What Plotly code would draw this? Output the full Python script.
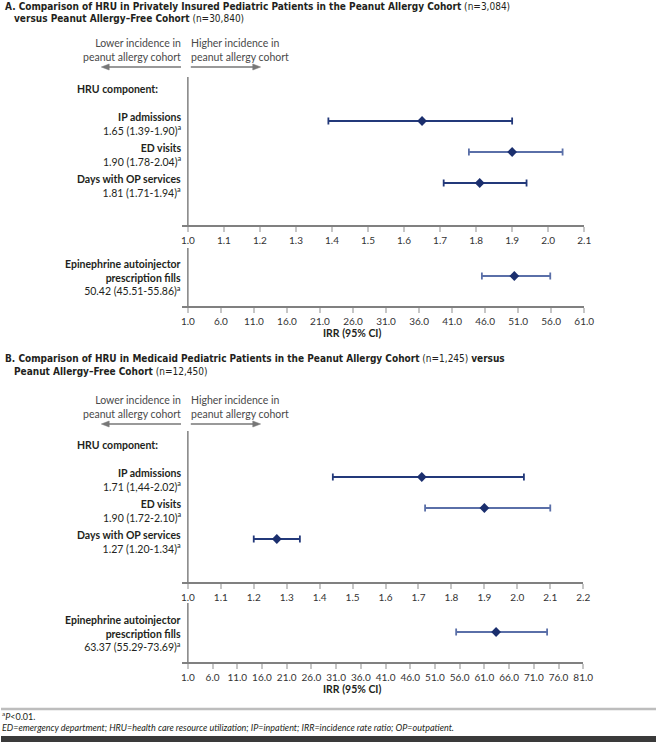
import plotly.graph_objects as go

W, H = 666, 742

# ---------------- data ----------------
COMPONENTS = ["IP admissions", "ED visits", "Days with OP services"]
EPI = ["Epinephrine autoinjector<br>prescription fills"]

A_IRR = [1.65, 1.90, 1.81]
A_LOW = [1.39, 1.78, 1.71]
A_HIGH = [1.90, 2.04, 1.94]
A_TEXT = ["1.65 (1.39-1.90)", "1.90 (1.78-2.04)", "1.81 (1.71-1.94)"]

A_EPI_IRR = [50.42]
A_EPI_LOW = [45.51]
A_EPI_HIGH = [55.86]
A_EPI_TEXT = ["50.42 (45.51-55.86)"]

B_IRR = [1.71, 1.90, 1.27]
B_LOW = [1.44, 1.72, 1.20]
B_HIGH = [2.02, 2.10, 1.34]
B_TEXT = ["1.71 (1,44-2.02)", "1.90 (1.72-2.10)", "1.27 (1.20-1.34)"]

B_EPI_IRR = [63.37]
B_EPI_LOW = [55.29]
B_EPI_HIGH = [73.69]
B_EPI_TEXT = ["63.37 (55.29-73.69)"]

A_TICKS = [1.0, 1.1, 1.2, 1.3, 1.4, 1.5, 1.6, 1.7, 1.8, 1.9, 2.0, 2.1]
A_EPI_TICKS = [1.0, 6.0, 11.0, 16.0, 21.0, 26.0, 31.0, 36.0, 41.0, 46.0, 51.0, 56.0, 61.0]
B_TICKS = [1.0, 1.1, 1.2, 1.3, 1.4, 1.5, 1.6, 1.7, 1.8, 1.9, 2.0, 2.1, 2.2]
B_EPI_TICKS = [1.0, 6.0, 11.0, 16.0, 21.0, 26.0, 31.0, 36.0, 41.0, 46.0, 51.0, 56.0,
               61.0, 66.0, 71.0, 76.0, 81.0]

TITLE_A = ["<b>A. Comparison of HRU in Privately Insured Pediatric Patients in the Peanut Allergy Cohort</b> (n=3,084)",
           "<b>versus Peanut Allergy–Free Cohort</b> (n=30,840)"]
TITLE_B = ["<b>B. Comparison of HRU in Medicaid Pediatric Patients in the Peanut Allergy Cohort</b> (n=1,245) <b>versus</b>",
           "<b>Peanut Allergy–Free Cohort</b> (n=12,450)"]

# ---------------- style ----------------
NAVY = "#1b2f6e"
DARK_LINE = "#23397a"
LIGHT_LINE = "#5a6fa8"
A_COLORS = [DARK_LINE, LIGHT_LINE, DARK_LINE]
B_COLORS = [DARK_LINE, LIGHT_LINE, DARK_LINE]
EPI_COLOR = LIGHT_LINE
TXT = "#231f20"
FONT = "Lato, 'Open Sans', sans-serif"
NARROW = "'Liberation Sans Narrow', 'DejaVu Sans Condensed', 'Arial Narrow', sans-serif"
ARROW = "#777777"


def px(p):
    return p / W


def py(p):
    return 1 - p / H


# panel layout specs (pixel geometry)
panels = [
    dict(cats=COMPONENTS, irr=A_IRR, lo=A_LOW, hi=A_HIGH, txt=A_TEXT, colors=A_COLORS,
         ticks=A_TICKS, xend=593, top=77, bottom=225, row0=121, sp=31, shift=-3),
    dict(cats=EPI, irr=A_EPI_IRR, lo=A_EPI_LOW, hi=A_EPI_HIGH, txt=A_EPI_TEXT, colors=[EPI_COLOR],
         ticks=A_EPI_TICKS, xend=593, top=248, bottom=306, row0=276, sp=31, shift=-1),
    dict(cats=COMPONENTS, irr=B_IRR, lo=B_LOW, hi=B_HIGH, txt=B_TEXT, colors=B_COLORS,
         ticks=B_TICKS, xend=592, top=431, bottom=582, row0=477, sp=31, shift=-3),
    dict(cats=EPI, irr=B_EPI_IRR, lo=B_EPI_LOW, hi=B_EPI_HIGH, txt=B_EPI_TEXT, colors=[EPI_COLOR],
         ticks=B_EPI_TICKS, xend=592, top=603, bottom=662, row0=632, sp=31, shift=-1),
]

fig = go.Figure()
annotations = []
shapes = []
layout = {}

X0PX, XLINE = 190, 184
for i, p in enumerate(panels, start=1):
    sfx = "" if i == 1 else str(i)
    xa, ya = f"x{sfx}", f"y{sfx}"
    t0, t1 = p["ticks"][0], p["ticks"][-1]
    ppu = (p["xend"] - X0PX) / (t1 - t0)
    layout[f"xaxis{sfx}"] = dict(
        domain=[px(XLINE), px(p["xend"])],
        range=[t0 - (X0PX - XLINE) / ppu, t1],
        anchor=ya, tickvals=p["ticks"], tickformat=".1f",
        ticks="outside", ticklen=5, tickwidth=2, tickcolor="#c6c6c6",
        showline=True, linecolor="#808080", linewidth=1.5,
        showgrid=False, zeroline=False,
        tickfont=dict(family=FONT, size=10, color="#333333"),
        fixedrange=True,
    )
    layout[f"yaxis{sfx}"] = dict(
        domain=[py(p["bottom"]), py(p["top"])],
        type="category", categoryarray=p["cats"],
        range=[(p["bottom"] - p["row0"]) / p["sp"], (p["top"] - p["row0"]) / p["sp"]],
        anchor=xa, visible=False, fixedrange=True,
    )
    # reference line at IRR = 1
    shapes.append(dict(type="line", xref=xa, yref=f"{ya} domain", x0=t0, x1=t0, y0=0, y1=1,
                       line=dict(color="#808080", width=1.5)))
    for j, cat in enumerate(p["cats"]):
        fig.add_trace(go.Scatter(
            x=[p["irr"][j]], y=[cat], xaxis=xa, yaxis=ya, mode="markers",
            marker=dict(symbol="diamond", size=7.5, color=NAVY),
            error_x=dict(type="data", symmetric=False,
                         array=[p["hi"][j] - p["irr"][j]],
                         arrayminus=[p["irr"][j] - p["lo"][j]],
                         color=p["colors"][j], thickness=1.8, width=3.5),
            hoverinfo="skip", showlegend=False,
        ))
        annotations.append(dict(
            xref="paper", yref=ya, x=px(185), y=j, xanchor="right", yanchor="middle",
            text=f"<b>{cat}</b><br>{p['txt'][j]}<sup>a</sup>", align="right",
            showarrow=False, yshift=p["shift"],
            font=dict(family=FONT, size=10.5, color=TXT),
        ))


def arrow(x_tail, x_head, y):
    # horizontal arrow: line plus filled triangular head (decoration, in pixels)
    d = 1 if x_head > x_tail else -1
    shapes.append(dict(type="line", xref="paper", yref="paper",
                       x0=px(x_tail), x1=px(x_head - d * 5), y0=py(y), y1=py(y),
                       line=dict(color=ARROW, width=1.3)))
    path = (f"M {px(x_head)} {py(y)} L {px(x_head - d * 8)} {py(y - 3)} "
            f"L {px(x_head - d * 8)} {py(y + 3)} Z")
    shapes.append(dict(type="path", xref="paper", yref="paper", path=path,
                       fillcolor=ARROW, line=dict(color=ARROW, width=0.5)))


def header_block(title, ty, lower_y, arrow_y, hru_y, irr_y):
    annotations.append(dict(xref="paper", yref="paper", x=px(2), y=py(ty), xanchor="left",
                            yanchor="middle", text=title[0], showarrow=False,
                            font=dict(family=NARROW, size=10, color=TXT)))
    annotations.append(dict(xref="paper", yref="paper", x=px(11), y=py(ty + 12.5), xanchor="left",
                            yanchor="middle", text=title[1], showarrow=False,
                            font=dict(family=NARROW, size=10, color=TXT)))
    annotations.append(dict(xref="paper", yref="paper", x=px(185), y=py(lower_y), xanchor="right",
                            yanchor="middle", align="right",
                            text="Lower incidence in<br>peanut allergy cohort", showarrow=False,
                            font=dict(family=FONT, size=10.5, color="#4a4a4a")))
    annotations.append(dict(xref="paper", yref="paper", x=px(191), y=py(lower_y), xanchor="left",
                            yanchor="middle", align="left",
                            text="Higher incidence in<br>peanut allergy cohort", showarrow=False,
                            font=dict(family=FONT, size=10.5, color="#4a4a4a")))
    arrow(183, 102, arrow_y)
    arrow(193, 264, arrow_y)
    annotations.append(dict(xref="paper", yref="paper", x=px(75), y=py(hru_y), xanchor="left",
                            yanchor="middle", text="<b>HRU component:</b>", showarrow=False,
                            font=dict(family=FONT, size=10.5, color=TXT)))
    annotations.append(dict(xref="paper", yref="paper", x=px(357), y=py(irr_y), xanchor="center",
                            yanchor="middle", text="<b>IRR (95% CI)</b>", showarrow=False,
                            font=dict(family=FONT, size=10.5, color=TXT)))


header_block(TITLE_A, 6, 50, 67, 89, 333)
header_block(TITLE_B, 359, 407, 424, 445, 689)

# footer
shapes.append(dict(type="line", xref="paper", yref="paper", x0=0, x1=1, y0=py(709), y1=py(709),
                   line=dict(color="#bdbdbd", width=2.5)))
shapes.append(dict(type="rect", xref="paper", yref="paper", x0=0, x1=1, y0=0, y1=py(736),
                   fillcolor="#3a3a3a", line=dict(width=0)))
annotations.append(dict(xref="paper", yref="paper", x=px(-1), y=py(716), xanchor="left",
                        yanchor="middle", text="<sup>a</sup><i>P</i>&lt;0.01.", showarrow=False,
                        font=dict(family=FONT, size=9, color=TXT)))
annotations.append(dict(xref="paper", yref="paper", x=px(-1), y=py(727), xanchor="left",
                        yanchor="middle",
                        text="<i>ED=emergency department; HRU=health care resource utilization; "
                             "IP=inpatient; IRR=incidence rate ratio; OP=outpatient.</i>",
                        showarrow=False, font=dict(family=FONT, size=9, color=TXT)))

fig.update_layout(
    width=W, height=H, margin=dict(l=0, r=0, t=0, b=0),
    paper_bgcolor="white", plot_bgcolor="white", showlegend=False,
    annotations=annotations, shapes=shapes, **layout,
)

fig.write_html("out.html", config={"displayModeBar": False},
               post_script="document.body.style.margin='0';")
